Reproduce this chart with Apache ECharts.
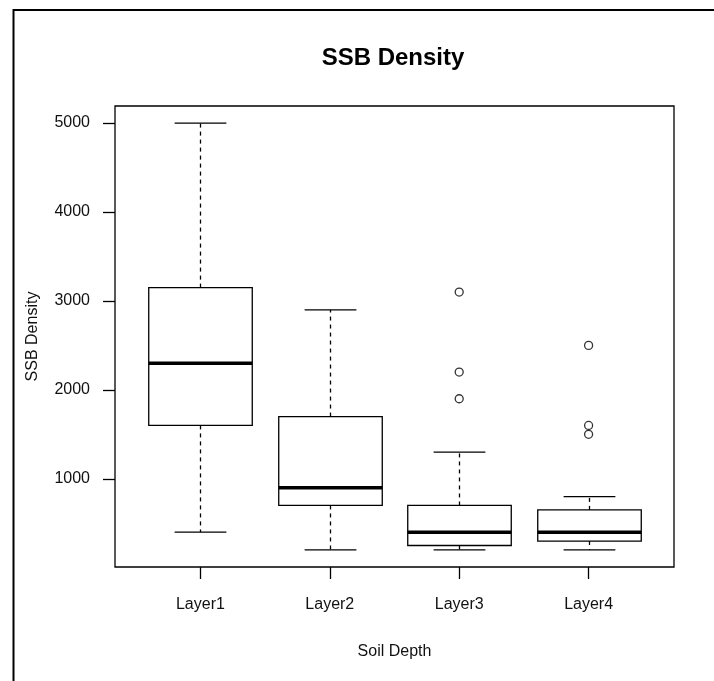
<!DOCTYPE html>
<html>
<head>
<meta charset="utf-8">
<script src="https://cdn.jsdelivr.net/npm/echarts@6/dist/echarts.min.js"></script>
<style>
html,body{margin:0;padding:0;background:#fff;}
#chart{width:714px;height:681px;}
</style>
</head>
<body>
<div id="chart"></div>
<script>
// ---- data ----
const categories = ['Layer1', 'Layer2', 'Layer3', 'Layer4'];
const lowWhisker = [400, 200, 200, 200];
const q1 = [1600, 700, 250, 300];
const median = [2300, 900, 400, 400];
const q3 = [3150, 1700, 700, 650];
const highWhisker = [5000, 2900, 1300, 800];
const outlierLayer = [3, 3, 3, 4, 4, 4];
const outlierValue = [3100, 2200, 1900, 2500, 1600, 1500];
const yTickValues = [1000, 2000, 3000, 4000, 5000];
const xTickValues = [1, 2, 3, 4];

const boxData = categories.map((c, i) => [i + 1, lowWhisker[i], q1[i], median[i], q3[i], highWhisker[i]]);
const outlierData = outlierLayer.map((l, i) => [l, outlierValue[i]]);

const FONT = 'Liberation Sans, Arial, sans-serif';
const TXT = '#111';
const LW = 1.3;

function renderBox(params, api) {
  const x = api.value(0);
  const lo = api.coord([x, api.value(1)]);
  const b1 = api.coord([x, api.value(2)]);
  const md = api.coord([x, api.value(3)]);
  const b3 = api.coord([x, api.value(4)]);
  const hi = api.coord([x, api.value(5)]);
  const halfBox = api.size([0.4, 0])[0];
  const halfCap = api.size([0.2, 0])[0];
  const cx = Math.round(lo[0]) + 0.5;
  const dash = { stroke: '#000', lineWidth: LW, lineDash: [4, 4] };
  const solid = { stroke: '#000', lineWidth: LW };
  return {
    type: 'group',
    children: [
      { type: 'line', shape: { x1: cx, y1: b1[1], x2: cx, y2: lo[1] }, style: dash },
      { type: 'line', shape: { x1: cx, y1: b3[1], x2: cx, y2: hi[1] }, style: dash },
      { type: 'line', shape: { x1: cx - halfCap, y1: lo[1], x2: cx + halfCap, y2: lo[1] }, style: solid },
      { type: 'line', shape: { x1: cx - halfCap, y1: hi[1], x2: cx + halfCap, y2: hi[1] }, style: solid },
      { type: 'rect', shape: { x: cx - halfBox, y: b3[1], width: 2 * halfBox, height: b1[1] - b3[1] },
        style: { fill: '#fff', stroke: '#000', lineWidth: LW } },
      { type: 'line', shape: { x1: cx - halfBox, y1: md[1], x2: cx + halfBox, y2: md[1] },
        style: { stroke: '#000', lineWidth: 3.5 } }
    ]
  };
}

const chart = echarts.init(document.getElementById('chart'), null, { renderer: 'canvas' });
chart.setOption({
  backgroundColor: '#fff',
  animation: false,
  title: {
    text: 'SSB Density',
    left: 393,
    textAlign: 'center',
    top: 46,
    padding: 0,
    textStyle: { fontFamily: FONT, fontSize: 24, fontWeight: 'bold', color: '#000' }
  },
  graphic: [
    { type: 'polyline', silent: true,
      shape: { points: [[13.5, 681], [13.5, 10], [714, 10]] },
      style: { stroke: '#000', lineWidth: 2, fill: null } }
  ],
  grid: {
    left: 115, top: 106, width: 559, height: 461,
    show: true, borderColor: '#000', borderWidth: LW, backgroundColor: 'transparent'
  },
  xAxis: {
    type: 'value',
    min: 0.34, max: 4.66,
    name: 'Soil Depth',
    nameLocation: 'middle',
    nameGap: 77,
    nameTextStyle: { fontFamily: FONT, fontSize: 16, color: TXT },
    axisLine: { show: false },
    splitLine: { show: false },
    axisTick: { show: true, inside: false, length: 12, customValues: xTickValues,
      lineStyle: { color: '#000', width: LW } },
    axisLabel: { show: true, customValues: xTickValues, margin: 30,
      fontFamily: FONT, fontSize: 16, color: TXT,
      formatter: v => categories[Math.round(v) - 1] }
  },
  yAxis: {
    type: 'value',
    min: 8, max: 5192,
    name: 'SSB Density',
    nameLocation: 'middle',
    nameGap: 74,
    nameTextStyle: { fontFamily: FONT, fontSize: 16, color: TXT },
    axisLine: { show: false },
    splitLine: { show: false },
    axisTick: { show: true, inside: false, length: 12, customValues: yTickValues,
      lineStyle: { color: '#000', width: LW } },
    axisLabel: { show: true, customValues: yTickValues, margin: 25,
      fontFamily: FONT, fontSize: 16, color: TXT,
      formatter: v => String(Math.round(v)) }
  },
  series: [
    {
      type: 'custom',
      name: 'SSB Density',
      renderItem: renderBox,
      data: boxData,
      encode: { x: 0, y: [1, 2, 3, 4, 5] },
      z: 2
    },
    {
      type: 'scatter',
      name: 'outliers',
      data: outlierData,
      symbol: 'circle',
      symbolSize: 8,
      itemStyle: { color: '#fff', borderColor: '#000', borderWidth: LW },
      z: 3
    }
  ]
});
</script>
</body>
</html>
